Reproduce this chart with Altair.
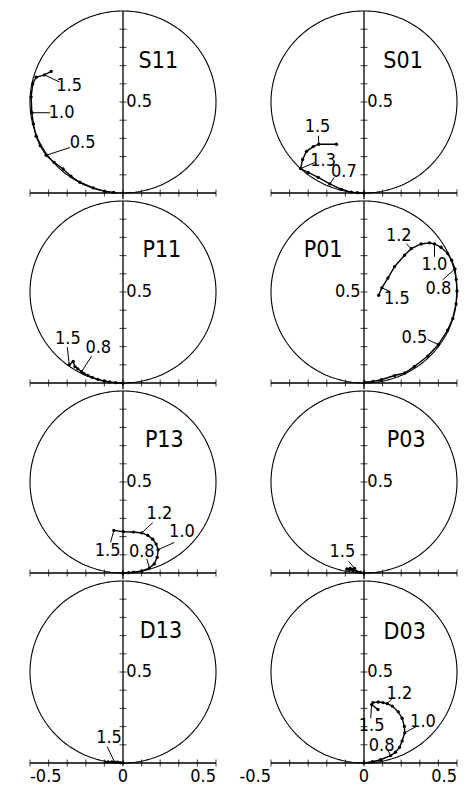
import altair as alt
import numpy as np
import pandas as pd

# ---------------- data ----------------
PANELS = ["S11", "S01", "P11", "P01", "P13", "P03", "D13", "D03"]

S11_re = [-0.05, -0.097, -0.16, -0.232, -0.28, -0.322, -0.37, -0.413, -0.445, -0.467, -0.482, -0.49, -0.494, -0.485, -0.467, -0.422, -0.386]
S11_im = [0.003, 0.009, 0.028, 0.059, 0.092, 0.132, 0.168, 0.207, 0.26, 0.312, 0.38, 0.441, 0.528, 0.60, 0.636, 0.649, 0.668]
S11_lab = ["0.5", "1.0", "1.5"]
S11_idx = [7, 11, 15]

S01_re = [0.0, -0.035, -0.068, -0.121, -0.184, -0.246, -0.30, -0.341, -0.330, -0.309, -0.273, -0.243, -0.148]
S01_im = [0.0, 0.002, 0.005, 0.020, 0.050, 0.086, 0.113, 0.134, 0.184, 0.229, 0.255, 0.268, 0.268]
S01_lab = ["0.7", "1.3", "1.5"]
S01_idx = [4, 7, 11]

P11_re = [0.0, -0.04, -0.072, -0.10, -0.135, -0.165, -0.189, -0.21, -0.223, -0.243, -0.258, -0.268, -0.289]
P11_im = [0.0, 0.002, 0.006, 0.011, 0.020, 0.031, 0.042, 0.052, 0.062, 0.078, 0.09, 0.118, 0.100]
P11_lab = ["0.8", "1.5"]
P11_idx = [8, 12]

P01_re = [0.004, 0.048, 0.093, 0.164, 0.22, 0.271, 0.343, 0.40, 0.45, 0.477, 0.495, 0.50, 0.496, 0.489, 0.471, 0.45, 0.414, 0.379, 0.352, 0.307, 0.254, 0.218, 0.164, 0.129, 0.096, 0.079]
P01_im = [0.005, 0.009, 0.018, 0.041, 0.055, 0.091, 0.148, 0.211, 0.291, 0.354, 0.434, 0.505, 0.568, 0.627, 0.675, 0.711, 0.746, 0.764, 0.770, 0.764, 0.738, 0.702, 0.639, 0.577, 0.523, 0.482]
P01_lab = ["0.5", "0.8", "1.0", "1.2", "1.5"]
P01_idx = [7, 13, 17, 20, 24]

P13_re = [0.0, 0.03, 0.056, 0.101, 0.142, 0.168, 0.184, 0.189, 0.178, 0.160, 0.133, 0.101, 0.056, 0.002, -0.049]
P13_im = [0.0, 0.002, 0.005, 0.011, 0.027, 0.050, 0.086, 0.128, 0.159, 0.186, 0.207, 0.220, 0.225, 0.227, 0.234]
P13_lab = ["0.8", "1.0", "1.2", "1.5"]
P13_idx = [4, 7, 11, 14]

P03_re = [0.0, -0.02, -0.04, -0.06, -0.08, -0.092, -0.075, -0.05]
P03_im = [0.0, 0.004, 0.009, 0.014, 0.018, 0.022, 0.025, 0.025]
P03_lab = ["1.5"]
P03_idx = [7]

D13_re = [0.0, -0.015, -0.03, -0.045, -0.06, -0.08, -0.095]
D13_im = [0.0, 0.002, 0.004, 0.005, 0.006, 0.006, 0.005]
D13_lab = ["1.5"]
D13_idx = [3]

D03_re = [0.0, 0.045, 0.089, 0.143, 0.169, 0.191, 0.205, 0.219, 0.217, 0.205, 0.184, 0.152, 0.125, 0.102, 0.077, 0.048, 0.041, 0.075]
D03_im = [0.0, 0.007, 0.018, 0.041, 0.059, 0.086, 0.121, 0.166, 0.201, 0.246, 0.281, 0.313, 0.326, 0.332, 0.335, 0.332, 0.321, 0.294]
D03_lab = ["0.8", "1.0", "1.2", "1.5"]
D03_idx = [3, 7, 12, 16]

XTICKS = [-0.5, -0.4, -0.3, -0.2, -0.1, 0.0, 0.1, 0.2, 0.3, 0.4, 0.5]
YTICKS = [0.1, 0.2, 0.3, 0.4, 0.5, 0.6, 0.7, 0.8, 0.9]
XTICK_LABELS = ["-0.5", "0", "0.5"]
XTICK_LABEL_POS = [-0.5, 0.0, 0.5]

DATA = {
    "S11": (S11_re, S11_im, S11_lab, S11_idx),
    "S01": (S01_re, S01_im, S01_lab, S01_idx),
    "P11": (P11_re, P11_im, P11_lab, P11_idx),
    "P01": (P01_re, P01_im, P01_lab, P01_idx),
    "P13": (P13_re, P13_im, P13_lab, P13_idx),
    "P03": (P03_re, P03_im, P03_lab, P03_idx),
    "D13": (D13_re, D13_im, D13_lab, D13_idx),
    "D03": (D03_re, D03_im, D03_lab, D03_idx),
}

# ---------------- layout (annotation offsets, relative to labelled point) ----------------
# (text dx, text dy, leader-start dx, leader-start dy) in data units
ANN = {
    "S11": [(0.196, 0.069, 0.128, 0.043), (0.16, 0.0, 0.097, 0.0), (0.132, -0.059, 0.08, -0.039)],
    "S01": [(0.076, 0.068, 0.024, 0.036), (0.121, 0.043, 0.077, 0.034), (-0.007, 0.092, -0.002, 0.047)],
    "P11": [(0.09, 0.131, 0.054, 0.085), (-0.007, 0.141, -0.01, 0.096)],
    "P01": [(-0.129, 0.036, -0.057, 0.027), (-0.089, -0.111, -0.066, -0.06), (0.0, -0.115, 0.0, -0.07),
            (-0.067, 0.072, -0.027, 0.028), (0.081, -0.061, 0.042, -0.019)],
    "P13": [(-0.041, 0.087, -0.014, 0.051), (0.128, 0.095, 0.087, 0.04), (0.095, 0.102, 0.059, 0.057),
            (-0.034, -0.111, -0.018, -0.066)],
    "P03": [(-0.066, 0.093, -0.032, 0.039)],
    "D13": [(-0.03, 0.135, -0.04, 0.085)],
    "D03": [(-0.048, 0.053, -0.013, 0.026), (0.098, 0.062, 0.063, 0.035), (0.065, 0.055, 0.025, 0.027),
            (0.0, -0.12, -0.005, -0.075)],
}
TITLE_POS = {"S11": (0.19, 0.725), "S01": (0.21, 0.726), "P11": (0.209, 0.73), "P01": (-0.22, 0.73),
             "P13": (0.222, 0.73), "P03": (0.227, 0.73), "D13": (0.204, 0.728), "D03": (0.219, 0.718)}
YLAB_LEFT = {"P01"}
# alignment of the bottom tick labels, for left and right panel
XLAB_ALIGN = {0: ["left", "center", "right"], 1: ["right", "center", "right"]}

FONT = "DejaVu Sans Condensed, Liberation Sans Narrow, DejaVu Sans"
FS = 18
W, H = 186, 182
XS = alt.Scale(domain=[-0.5, 0.5], nice=False, zero=False)
YS = alt.Scale(domain=[0.0, 1.0], nice=False, zero=False)


def X(f):
    return alt.X(f, type="quantitative", scale=XS, axis=None)


def Y(f):
    return alt.Y(f, type="quantitative", scale=YS, axis=None)


th = np.linspace(0, 2 * np.pi, 241)
circle_df = pd.DataFrame({"cx": 0.5 * np.cos(th), "cy": 0.5 + 0.5 * np.sin(th), "k": np.arange(len(th))})


def panel(name, bottom, col):
    re, im, labs, idx = DATA[name]
    pts = pd.DataFrame({"re": re, "im": im, "k": range(len(re))})
    ann_rows = []
    for lab, i, off in zip(labs, idx, ANN[name]):
        px, py = re[i], im[i]
        ann_rows.append({"label": lab, "px": px, "py": py,
                         "tx": px + off[0], "ty": py + off[1],
                         "lx": px + off[2], "ly": py + off[3]})
    ann = pd.DataFrame(ann_rows)

    circ = alt.Chart(circle_df).mark_line(color="black", strokeWidth=1.1).encode(
        x=X("cx"), y=Y("cy"), order="k:Q")
    haxis = alt.Chart(pd.DataFrame({"a": [-0.5], "b": [0.5], "y": [0.0]})).mark_rule(
        color="black", strokeWidth=1.3).encode(x=X("a"), x2="b", y=Y("y"))
    vbot = 0.0 if bottom else -0.035
    vaxis = alt.Chart(pd.DataFrame({"x": [0.0], "a": [vbot], "b": [1.0]})).mark_rule(
        color="black", strokeWidth=1.3).encode(x=X("x"), y=Y("a"), y2="b")
    xt = alt.Chart(pd.DataFrame({"t": XTICKS, "z": [0.0] * len(XTICKS)})).mark_tick(
        orient="vertical", size=7, thickness=1.1, color="black").encode(x=X("t"), y=Y("z"))
    yt = alt.Chart(pd.DataFrame({"t": YTICKS, "z": [0.0] * len(YTICKS)})).mark_tick(
        orient="horizontal", size=7, thickness=1.1, color="black").encode(x=X("z"), y=Y("t"))
    left = name in YLAB_LEFT
    ylab = alt.Chart(pd.DataFrame({"x": [-0.018 if left else 0.018], "y": [0.5], "s": ["0.5"]})).mark_text(
        align="right" if left else "left", baseline="middle", font=FONT, fontSize=FS, color="black").encode(
        x=X("x"), y=Y("y"), text="s:N")
    title = alt.Chart(pd.DataFrame({"x": [TITLE_POS[name][0]], "y": [TITLE_POS[name][1]], "s": [name]})).mark_text(
        align="center", baseline="middle", font=FONT, fontSize=23, color="black").encode(
        x=X("x"), y=Y("y"), text="s:N")
    line = alt.Chart(pts).mark_line(color="black", strokeWidth=1.4).encode(x=X("re"), y=Y("im"), order="k:Q")
    dots = alt.Chart(pts).mark_circle(color="black", size=11, opacity=1).encode(x=X("re"), y=Y("im"))
    leaders = alt.Chart(ann).mark_rule(color="black", strokeWidth=1).encode(
        x=X("lx"), y=Y("ly"), x2="px", y2="py")
    texts = alt.Chart(ann).mark_text(align="center", baseline="middle", font=FONT, fontSize=FS,
                                     color="black").encode(x=X("tx"), y=Y("ty"), text="label:N")
    layers = [circ, haxis, vaxis, xt, yt, ylab, title, line, dots, leaders, texts]
    if bottom:
        for s, p, al in zip(XTICK_LABELS, XTICK_LABEL_POS, XLAB_ALIGN[col]):
            xl = alt.Chart(pd.DataFrame({"x": [p], "y": [-0.075], "s": [s]})).mark_text(
                align=al, baseline="middle", font=FONT, fontSize=FS, color="black").encode(
                x=X("x"), y=Y("y"), text="s:N")
            layers.append(xl)
    return alt.layer(*layers).properties(width=W, height=H)


panels = [panel(n, k >= 6, k % 2) for k, n in enumerate(PANELS)]

chart = alt.concat(*panels, columns=2, spacing={"row": 8, "column": 55}, bounds="flush").properties(
    padding={"left": 19, "top": 0, "right": 0, "bottom": 0},
).configure(background="white").configure_view(stroke=None)

chart.save("out.html", embed_options={"renderer": "svg", "actions": False})
